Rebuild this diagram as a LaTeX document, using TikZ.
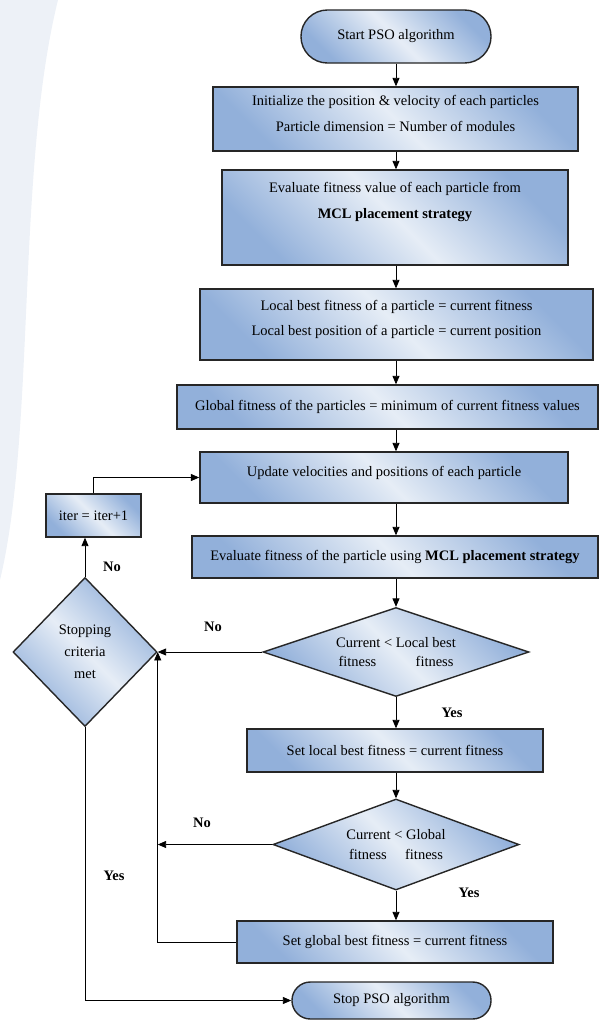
\documentclass[tikz,border=0pt]{standalone}
\usepackage{fontspec}
\setmainfont{Liberation Serif}
\usetikzlibrary{shapes.geometric,arrows.meta}

\definecolor{boxblue}{RGB}{146,176,218}
\definecolor{boxlight}{RGB}{230,237,246}
\definecolor{wmark}{RGB}{237,241,247}

\tikzset{
  shadedbox/.style={draw=black!85,line width=1pt,top color=boxblue,bottom color=boxblue,
    middle color=boxlight,shading angle=-45,align=center,inner sep=2pt,
    font=\fontsize{10.3}{18}\selectfont},
  procbox/.style={shadedbox,rectangle},
  termbox/.style={shadedbox,rectangle},
  decbox/.style={shadedbox,diamond,aspect=3,inner sep=0pt,font=\fontsize{10.3}{14}\selectfont},
  arr/.style={-{Triangle[length=6pt,width=5pt]},line width=0.6pt},
  lbl/.style={font=\fontsize{10.3}{12}\selectfont\bfseries}
}

\begin{document}
\begin{tikzpicture}[x=0.025cm,y=-0.025cm]
  % Page
  \useasboundingbox (0,0) rectangle (600,1020);
  \fill[wmark] (0,0) -- (58,0) .. controls (16,170) and (36,430) .. (0,580) -- cycle;

  % Main column
  \node[termbox,rounded corners=0.66cm,minimum width=4.75cm,minimum height=1.325cm] (start) at (396,36.5) {Start PSO algorithm};
  \node[procbox,minimum width=9.125cm,minimum height=1.6cm,text depth=0.28cm] (init) at (395.5,119)
    {Initialize the position \& velocity of each particles\\Particle dimension = Number of modules};
  \node[procbox,minimum width=8.65cm,minimum height=2.375cm,text depth=0.85cm] (evalA) at (395,217.5)
    {Evaluate fitness value of each particle from\\\textbf{MCL placement strategy}};
  \node[procbox,minimum width=9.825cm,minimum height=1.775cm,text depth=0.33cm] (local) at (396.5,324.5)
    {Local best fitness of a particle = current fitness\\Local best position of a particle = current position};
  \node[procbox,minimum width=10.525cm,minimum height=1.1cm] (global) at (387.5,407)
    {Global fitness of the particles = minimum of current fitness values};
  \node[procbox,minimum width=9.2cm,minimum height=1.275cm,text depth=0.3cm] (update) at (384,477.5)
    {Update velocities and positions of each particle};
  \node[procbox,minimum width=10.15cm,minimum height=1.05cm] (evalB) at (395,557)
    {Evaluate fitness of the particle using \textbf{MCL placement strategy}};
  \node[decbox,minimum width=6.65cm,minimum height=2.225cm] (dmdA) at (396,652)
    {Current < Local best\\fitness\hspace{28pt}fitness};
  \node[procbox,minimum width=7.4cm,minimum height=1.075cm] (setlocal) at (395,750.5)
    {Set local best fitness = current fitness};
  \node[decbox,minimum width=6.15cm,minimum height=2.275cm] (dmdB) at (396,844.5)
    {Current < Global\\fitness\hspace{13pt}fitness};
  \node[procbox,minimum width=7.9cm,minimum height=1.05cm] (setglobal) at (395,942)
    {Set global best fitness = current fitness};
  \node[termbox,rounded corners=0.46cm,minimum width=4.975cm,minimum height=0.925cm] (stop) at (391.5,1000.5) {Stop PSO algorithm};

  % Loop column
  \node[decbox,aspect=1,minimum width=3.6cm,minimum height=3.725cm,font=\fontsize{10.3}{15.6}\selectfont] (stopc) at (85,652)
    {Stopping\\criteria\\met};
  \node[procbox,minimum width=2.375cm,minimum height=1.075cm] (iter) at (93.5,515.5) {iter = iter+1};

  % Spine
  \draw[arr] (start.south) -- (start |- init.north);
  \draw[arr] (init.south -| start) -- (start |- evalA.north);
  \draw[arr] (evalA.south -| start) -- (start |- local.north);
  \draw[arr] (local.south -| start) -- (start |- global.north);
  \draw[arr] (global.south -| start) -- (start |- update.north);
  \draw[arr] (update.south -| start) -- (start |- evalB.north);
  \draw[arr] (evalB.south -| start) -- (dmdA.north);
  \draw[arr] (dmdA.south) -- (dmdA |- setlocal.north);
  \draw[arr] (setlocal.south -| dmdB) -- (dmdB.north);
  \draw[arr] (dmdB.south) -- (dmdB |- setglobal.north);

  % Feedback
  \draw[arr] (dmdA.west) -- (stopc.east);
  \draw[arr] (dmdB.west) -- (dmdB.west -| stopc.east);
  \draw[arr] (setglobal.west) -| (stopc.east);
  \draw[arr] (stopc.north) -- (stopc.north |- iter.south);
  \draw[arr] (iter.north) |- (update.west);
  \draw[arr] (stopc.south) |- (stop.west);

  % Labels
  \node[lbl] (noA) at (213,627) {No};
  \node[lbl] (noB) at (202,823) {No};
  \node[lbl] (noC) at (112,567) {No};
  \node[lbl] (yesA) at (452,713) {Yes};
  \node[lbl] (yesB) at (469,893) {Yes};
  \node[lbl] (yesC) at (114,876) {Yes};
\end{tikzpicture}
\end{document}
